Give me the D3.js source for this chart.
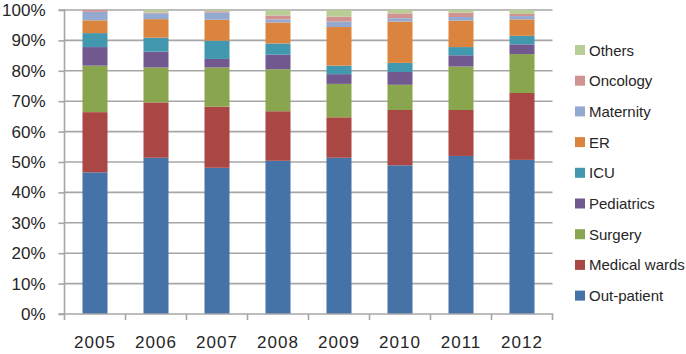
<!DOCTYPE html>
<html><head><meta charset="utf-8">
<script src="https://cdn.jsdelivr.net/npm/d3@7"></script>
<style>body{margin:0;background:#fff}svg{display:block}text{font-family:"Liberation Sans",Arial,sans-serif;fill:#262626}</style>
</head><body><svg id="c" width="686" height="354"></svg>
<script>
const years = ["2005","2006","2007","2008","2009","2010","2011","2012"];
const seriesNames = ["Out-patient","Medical wards","Surgery","Pediatrics","ICU","ER","Maternity","Oncology","Others"];
const outPatient   = [46.6, 51.4, 48.1, 50.4, 51.4, 48.9, 52.0, 50.7];
const medicalWards = [19.8, 18.2, 20.1, 16.3, 13.3, 18.2, 15.1, 22.0];
const surgery      = [15.3, 11.5, 12.9, 13.8, 11.0,  8.3, 14.3, 12.8];
const pediatrics   = [ 6.1,  5.2,  2.8,  4.8,  3.2,  4.2,  3.7,  3.2];
const icu          = [ 4.6,  4.6,  6.0,  3.7,  2.8,  3.0,  2.7,  2.8];
const er           = [ 4.2,  6.1,  6.9,  6.9, 12.7, 13.6,  8.7,  5.4];
const maternity    = [ 2.8,  1.9,  2.4,  1.0,  1.8,  1.1,  1.2,  1.1];
const oncology     = [ 0.6,  0.3,  0.4,  1.3,  1.6,  1.6,  1.4,  0.7];
const others       = [ 0.0,  0.8,  0.4,  1.8,  2.2,  1.1,  0.9,  1.3];
const yTicks = [0,0.1,0.2,0.3,0.4,0.5,0.6,0.7,0.8,0.9,1];
const colors = ["#4572A7","#AA4643","#89A54E","#71588F","#4198AF","#DB843D","#93A9CF","#D19392","#B9CD96"];

const seriesValues = [outPatient, medicalWards, surgery, pediatrics, icu, er, maternity, oncology, others];
const table = years.map((y,i)=>{
  const row = {year:y};
  const tot = d3.sum(seriesValues, s=>s[i]);
  seriesNames.forEach((n,k)=>row[n]=seriesValues[k][i]/tot);
  return row;
});
const stacked = d3.stack().keys(seriesNames)(table);

const svg = d3.select("#c");
const L=64.5, R=552.5, T=10, B=314;
const x = d3.scaleBand().domain(years).range([L,R]).paddingInner(0.59).paddingOuter(0.295);
const xb = d3.scaleBand().domain(years).range([L,R]);
const y = d3.scaleLinear().domain([0,1]).range([B,T]);
const grid = "#a6a6a6";

// gridlines
svg.append("g").selectAll("line").data(yTicks.slice(1)).join("line")
  .attr("x1",L).attr("x2",R).attr("y1",d=>y(d)).attr("y2",d=>y(d))
  .attr("stroke",grid).attr("stroke-width",1.6);

// bars
svg.append("g").selectAll("g").data(stacked).join("g")
  .attr("fill",(d,i)=>colors[i])
  .selectAll("rect").data(d=>d).join("rect")
  .attr("x",d=>x(d.data.year)).attr("width",x.bandwidth())
  .attr("y",d=>y(d[1])).attr("height",d=>y(d[0])-y(d[1]));

// y axis
const ya = svg.append("g").attr("transform",`translate(${L},0)`)
  .call(d3.axisLeft(y).tickValues(yTicks).tickFormat(d3.format(".0%")).tickSize(6).tickPadding(13));
ya.select(".domain").attr("stroke",grid).attr("stroke-width",1.6).attr("d",`M-6,${T}H0V${B}H-6`);
ya.selectAll(".tick line").attr("stroke",grid).attr("stroke-width",1.6);
ya.selectAll(".tick text").attr("font-size",17).attr("fill","#262626").attr("font-family","Liberation Sans, Arial");

// x axis
const xa = svg.append("g").attr("transform",`translate(0,${B})`)
  .call(d3.axisBottom(xb).tickSize(0).tickPadding(22));
xa.select(".domain").attr("stroke",grid).attr("stroke-width",1.6).attr("d",`M${L},6V0H${R}V6`);
xa.selectAll(".tick text").attr("font-size",17).attr("letter-spacing","1px").attr("fill","#262626").attr("font-family","Liberation Sans, Arial");
xa.append("g").selectAll("line").data(years.slice(1)).join("line")
  .attr("x1",d=>xb(d)).attr("x2",d=>xb(d)).attr("y1",0).attr("y2",6)
  .attr("stroke",grid).attr("stroke-width",1.6);

// legend
const legendOrder = seriesNames.map((n,i)=>({n,c:colors[i]})).reverse();
const lg = svg.append("g").selectAll("g").data(legendOrder).join("g")
  .attr("transform",(d,i)=>`translate(575,${50+i*30.7})`);
lg.append("rect").attr("x",0).attr("y",-5).attr("width",10).attr("height",10).attr("fill",d=>d.c);
lg.append("text").attr("x",14).attr("y",5.5).attr("font-size",15).text(d=>d.n);
</script></body></html>
